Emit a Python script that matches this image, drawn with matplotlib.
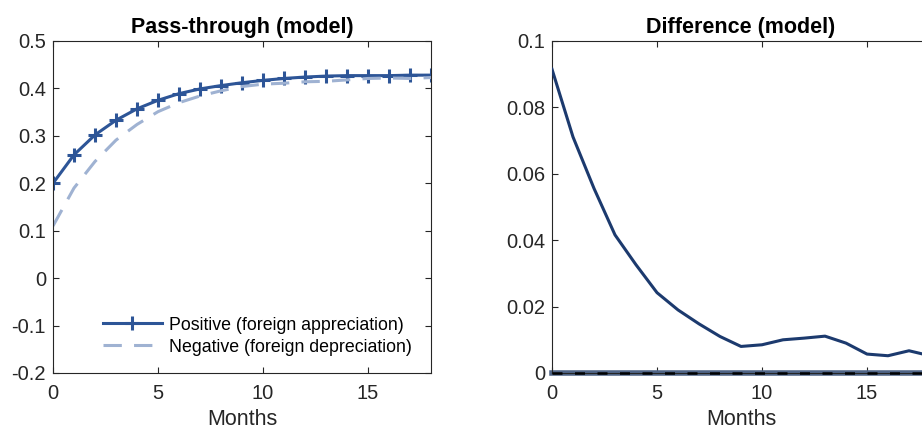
import matplotlib
matplotlib.use("Agg")
import matplotlib.pyplot as plt

plt.rcParams['font.family'] = ['Liberation Sans', 'DejaVu Sans']

months = list(range(19))
positive = [0.200, 0.260, 0.302, 0.333, 0.357, 0.375, 0.389, 0.399, 0.406, 0.412,
            0.417, 0.421, 0.424, 0.426, 0.427, 0.427, 0.427, 0.428, 0.428]
negative = [0.110, 0.190, 0.246, 0.291, 0.324, 0.351, 0.370, 0.384, 0.395, 0.404,
            0.409, 0.411, 0.414, 0.415, 0.418, 0.421, 0.422, 0.421, 0.423]
difference = [0.0915, 0.0711, 0.0556, 0.0416, 0.0326, 0.0242, 0.0190, 0.0148, 0.0110, 0.0080,
              0.0085, 0.0100, 0.0105, 0.0111, 0.0090, 0.0057, 0.0052, 0.0067, 0.0052]

pos_color = '#2d5597'
neg_color = '#9fb2d2'
diff_color = '#1c3a6e'

fig = plt.figure(figsize=(9.22, 4.29), dpi=100)
ax1 = fig.add_axes([53/922, 56/429, 378/922, 332/429])
ax2 = fig.add_axes([552/922, 56/429, 378/922, 332/429])

ax1.plot(months, positive, color=pos_color, lw=2.2, marker='+', ms=10, mew=2.2,
         label='Positive (foreign appreciation)')
ax1.plot(months, negative, color=neg_color, lw=2.2, dashes=(6, 4),
         label='Negative (foreign depreciation)')
ax1.set_xlim(0, 18)
ax1.set_ylim(-0.2, 0.5)
ax1.set_yticks([-0.2, -0.1, 0, 0.1, 0.2, 0.3, 0.4, 0.5])
ax1.set_yticklabels(['-0.2', '-0.1', '0', '0.1', '0.2', '0.3', '0.4', '0.5'])
ax1.set_title('Pass-through (model)', fontsize=15.5, fontweight='bold', pad=6)
ax1.legend(loc='lower right', frameon=False, fontsize=12.8, handlelength=3.3,
           handletextpad=0.4, borderaxespad=0.2, labelspacing=0.28,
           bbox_to_anchor=(0.977, 0.02))

ax2.axhline(0, color='#4f6486', lw=4, zorder=2, clip_on=False)
ax2.axhline(0, color='black', lw=1.8, dashes=(4, 5), zorder=3, clip_on=False)
ax2.plot(months, difference, color=diff_color, lw=2.2, zorder=4)
ax2.set_xlim(0, 18)
ax2.set_ylim(0, 0.1)
ax2.set_yticks([0, 0.02, 0.04, 0.06, 0.08, 0.1])
ax2.set_yticklabels(['0', '0.02', '0.04', '0.06', '0.08', '0.1'])
ax2.set_title('Difference (model)', fontsize=15.5, fontweight='bold', pad=6)

for ax in (ax1, ax2):
    ax.set_xticks([0, 5, 10, 15])
    ax.set_xlabel('Months', fontsize=15.5, color='#262626', labelpad=4)
    ax.tick_params(direction='in', top=True, right=True, labelsize=14.5,
                   length=4, width=0.8, colors='#262626')
    ax.tick_params(axis='x', pad=8)
    ax.tick_params(axis='y', pad=5)
    for s in ax.spines.values():
        s.set_color('#262626')
        s.set_linewidth(0.8)

fig.savefig('out.png', dpi=100)
